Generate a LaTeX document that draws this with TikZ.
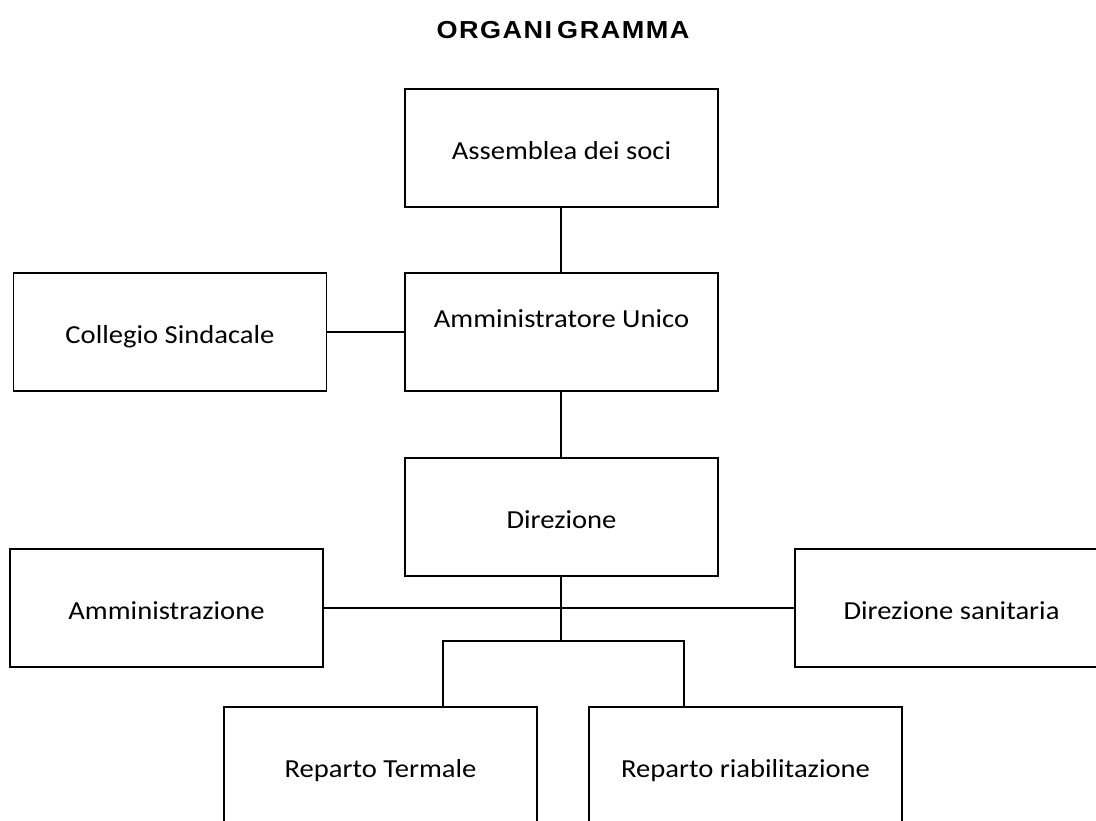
\documentclass[tikz,border=0pt]{standalone}
\usepackage{fontspec}
\setmainfont{Carlito}[FakeStretch=1.1]
\newfontfamily\titlefont{Liberation Sans}[FakeStretch=1.1,LetterSpace=6]
\begin{document}
\begin{tikzpicture}[x=1pt,y=-1pt,
  orgbox/.style={draw=black,line width=1.6pt,minimum width=313pt,minimum height=118pt,
    inner sep=0pt,font=\fontsize{26}{30}\selectfont,text height=26pt,text depth=4pt},
  conn/.style={draw=black,line width=1.6pt}]
\useasboundingbox (0,0) rectangle (1096,820);
\clip (0,0) rectangle (1096,820);
\node (title) at (563,30) {\titlefont\bfseries\fontsize{24.6}{28}\selectfont ORGANI\kern5pt GRAMMA};
\node[orgbox] (ass) at (561.5,148) {Assemblea dei soci};
\node[orgbox,text depth=36pt] (amu) at (561.5,332) {Amministratore Unico};
\node[orgbox] (col) at (170,332) {Collegio Sindacale};
\node[orgbox] (dir) at (561.5,517) {Direzione};
\node[orgbox] (amm) at (166.5,608) {Amministrazione};
\node[orgbox] (dsa) at (951.5,608) {Direzione sanitaria};
\node[orgbox] (rt) at (380.5,766) {Reparto Termale};
\node[orgbox] (rr) at (745.5,766) {Reparto riabilitazione};
\coordinate (j) at (561,641);
\coordinate (jl) at (443,641);
\coordinate (jr) at (684,641);
\draw[conn] (ass.south -| j) -- (amu.north -| j);
\draw[conn] (col.east) -- (amu.west);
\draw[conn] (amu.south -| j) -- (dir.north -| j);
\draw[conn] (dir.south -| j) -- (j);
\draw[conn] (amm.east) -- (dsa.west);
\draw[conn] (jl |- rt.north) -- (jl) -- (jr) -- (jr |- rr.north);
\end{tikzpicture}
\end{document}
